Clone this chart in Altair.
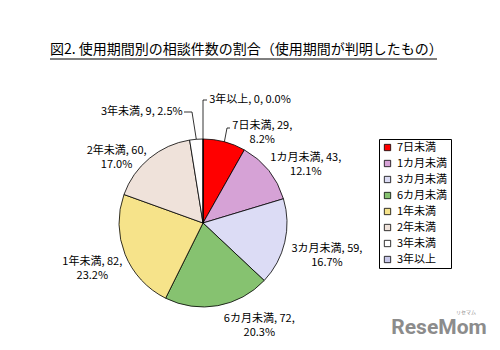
import math
import altair as alt
import pandas as pd

# ---- data ----
categories = ["7日未満", "1カ月未満", "3カ月未満", "6カ月未満", "1年未満", "2年未満", "3年未満", "3年以上"]
counts = [29, 43, 59, 72, 82, 60, 9, 0]
percents = [8.2, 12.1, 16.7, 20.3, 23.2, 17.0, 2.5, 0.0]
colors = ["#ff0000", "#d6a2d6", "#dcdcf5", "#86c270", "#f6e38a", "#efe2da", "#ffffff", "#c8c8ea"]
title_text = "図2. 使用期間別の相談件数の割合（使用期間が判明したもの）"

# ---- layout ----
W, H = 500, 350
CX, CY, R = 203, 223, 84
LABEL_R = 115
label_dx = [30, 13, 12, 36, -4, -13, -52, 47]
label_dy = [14, 7, 0, -17, -4, 17, 4, -8]
# leader elbows: category index -> (elbow x, elbow y, end x, end y)
leader_elbows = {0: (227, 128, 230, 128), 6: (192, 112, 184, 112), 7: (203, 100, 207, 100)}
FONT = "Noto Sans CJK JP"

total = sum(counts)
mids, cum = [], 0
for c in counts:
    mids.append(cum + c / 2)
    cum += c

texts = []
for cat, c, p in zip(categories, counts, percents):
    if p < 5:
        texts.append(f"{cat}, {c}, {p:.1f}%")
    else:
        texts.append(f"{cat}, {c},\n{p:.1f}%")

df = pd.DataFrame({
    "cat": categories,
    "value": counts,
    "idx": list(range(len(categories))),
    "mid": mids,
    "label": texts,
})

theta_scale = alt.Scale(domain=[0, total])

arc = alt.Chart(df).mark_arc(outerRadius=R, stroke="black", strokeWidth=0.8).encode(
    theta=alt.Theta("value:Q", stack=True, scale=theta_scale),
    color=alt.Color(
        "cat:N",
        scale=alt.Scale(domain=categories, range=colors),
        sort=categories,
        legend=alt.Legend(
            title=None, orient="none", legendX=379, legendY=139,
            strokeColor="black", fillColor="white", padding=3,
            symbolType="square", symbolSize=40, symbolStrokeColor="black",
            symbolStrokeWidth=0.8, labelFont=FONT, labelFontSize=11,
            labelColor="black", rowPadding=4, labelOffset=4,
        ),
    ),
    order=alt.Order("idx:Q"),
    x=alt.value(CX),
    y=alt.value(CY),
)

label_layers = []
for i, cat in enumerate(categories):
    label_layers.append(
        alt.Chart(df).transform_filter(alt.datum.cat == cat).mark_text(
            radius=LABEL_R, font=FONT, fontSize=11, color="black",
            align="center", baseline="middle", lineBreak="\n", lineHeight=14,
            dx=label_dx[i], dy=label_dy[i],
        ).encode(
            theta=alt.Theta("mid:Q", scale=theta_scale),
            text="label:N",
            x=alt.value(CX),
            y=alt.value(CY),
        )
    )

rows = []
for i, (ex, ey, tx, ty) in leader_elbows.items():
    a = mids[i] / total * 2 * math.pi
    sx, sy = CX + R * math.sin(a), CY - R * math.cos(a)
    for k, (px, py) in enumerate([(sx, sy), (ex, ey), (tx, ty)]):
        rows.append({"lid": i, "ord": k, "px": px, "py": py})
ldf = pd.DataFrame(rows)

leaders = alt.Chart(ldf).mark_line(color="black", strokeWidth=0.8).encode(
    x=alt.X("px:Q", scale=None, axis=None),
    y=alt.Y("py:Q", scale=None, axis=None),
    detail="lid:N",
    order="ord:Q",
)

title = alt.Chart(pd.DataFrame({"t": [title_text]})).mark_text(
    align="left", baseline="middle", font=FONT, fontSize=14, color="black"
).encode(text="t:N", x=alt.value(50), y=alt.value(50))

underline = alt.Chart(pd.DataFrame({"a": [0]})).mark_rule(color="black", strokeWidth=1).encode(
    x=alt.value(50), x2=alt.value(437), y=alt.value(59)
)

logo = alt.Chart(pd.DataFrame({"t": ["ReseMom"]})).mark_text(
    align="center", baseline="middle", font="Roboto", fontSize=21, fontWeight="bold", color="#8c8c8c"
).encode(text="t:N", x=alt.value(439), y=alt.value(328))

logo_small = alt.Chart(pd.DataFrame({"t": ["リセマム"]})).mark_text(
    align="center", baseline="middle", font=FONT, fontSize=5, color="#8c8c8c"
).encode(text="t:N", x=alt.value(466), y=alt.value(312))

chart = alt.layer(arc, *label_layers, leaders, title, underline, logo, logo_small).properties(
    width=W, height=H, autosize="none", padding=0, background="white"
).configure_view(stroke=None)

chart.save("out.html", embed_options={"renderer": "svg", "actions": False})
